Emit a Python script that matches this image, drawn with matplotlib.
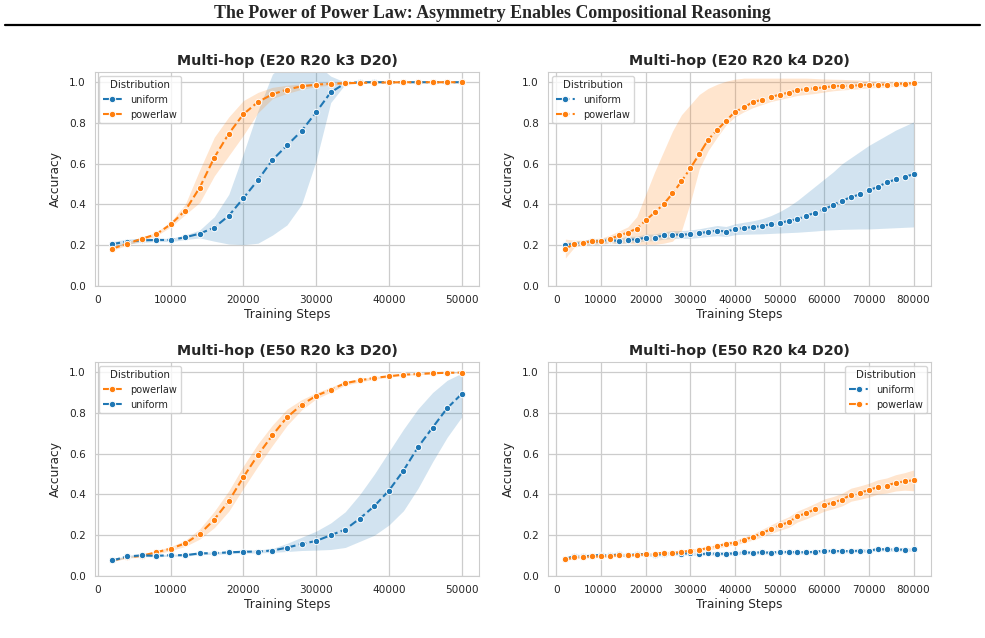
import matplotlib
matplotlib.use("Agg")
import matplotlib.pyplot as plt
import seaborn as sns
from matplotlib.lines import Line2D

sns.set_style("whitegrid")
plt.rcParams["font.family"] = ["DejaVu Sans"]

# training steps
steps_50k = list(range(2000, 50001, 2000))
steps_80k = list(range(2000, 80001, 2000))

# E20 R20 k3 D20
u1 = [0.206, 0.218, 0.224, 0.226, 0.226, 0.239, 0.257, 0.287, 0.345, 0.431, 0.520, 0.619, 0.690,
      0.761, 0.853, 0.950, 0.995, 1.0, 1.0, 1.0, 1.0, 1.0, 1.0, 1.0, 1.0]
u1_lo = [0.195, 0.206, 0.214, 0.218, 0.218, 0.228, 0.236, 0.220, 0.206, 0.203, 0.210, 0.250, 0.300,
         0.400, 0.615, 0.900, 0.990, 1.0, 1.0, 1.0, 1.0, 1.0, 1.0, 1.0, 1.0]
u1_hi = [0.218, 0.230, 0.234, 0.234, 0.234, 0.250, 0.275, 0.340, 0.450, 0.650, 0.860, 1.040, 1.100,
         1.110, 1.090, 1.030, 1.0, 1.0, 1.0, 1.0, 1.0, 1.0, 1.0, 1.0, 1.0]
p1 = [0.183, 0.208, 0.231, 0.254, 0.302, 0.370, 0.483, 0.630, 0.748, 0.843, 0.903, 0.941, 0.964,
      0.980, 0.988, 0.993, 0.995, 0.997, 0.998, 0.999, 1.0, 1.0, 1.0, 1.0, 1.0]
p1_lo = [0.175, 0.200, 0.222, 0.245, 0.290, 0.350, 0.410, 0.540, 0.640, 0.740, 0.850, 0.920, 0.945,
         0.965, 0.978, 0.986, 0.990, 0.995, 0.997, 0.998, 1.0, 1.0, 1.0, 1.0, 1.0]
p1_hi = [0.192, 0.216, 0.240, 0.263, 0.315, 0.400, 0.570, 0.730, 0.830, 0.910, 0.950, 0.975, 0.985,
         0.992, 0.996, 0.998, 0.999, 1.0, 1.0, 1.0, 1.0, 1.0, 1.0, 1.0, 1.0]

# E20 R20 k4 D20
u2 = [0.200, 0.208, 0.213, 0.219, 0.219, 0.228, 0.219, 0.228, 0.228, 0.238, 0.238, 0.248, 0.252,
      0.252, 0.254, 0.259, 0.266, 0.272, 0.267, 0.279, 0.285, 0.289, 0.295, 0.302, 0.309, 0.320,
      0.328, 0.345, 0.360, 0.376, 0.398, 0.419, 0.436, 0.450, 0.469, 0.487, 0.508, 0.523, 0.536, 0.548]
u2_lo = [0.190, 0.198, 0.203, 0.207, 0.207, 0.214, 0.207, 0.214, 0.214, 0.222, 0.222, 0.230, 0.233,
         0.233, 0.234, 0.238, 0.243, 0.247, 0.243, 0.252, 0.254, 0.255, 0.256, 0.258, 0.260, 0.262,
         0.264, 0.267, 0.270, 0.274, 0.276, 0.278, 0.279, 0.280, 0.280, 0.282, 0.284, 0.286, 0.288, 0.290]
u2_hi = [0.212, 0.220, 0.225, 0.232, 0.232, 0.242, 0.234, 0.244, 0.244, 0.255, 0.255, 0.266, 0.272,
         0.272, 0.275, 0.281, 0.289, 0.297, 0.292, 0.305, 0.313, 0.320, 0.330, 0.345, 0.365, 0.390,
         0.420, 0.455, 0.490, 0.525, 0.560, 0.600, 0.630, 0.660, 0.690, 0.715, 0.740, 0.765, 0.785, 0.805]
p2 = [0.182, 0.208, 0.213, 0.219, 0.219, 0.231, 0.248, 0.262, 0.282, 0.322, 0.361, 0.401, 0.454,
      0.513, 0.578, 0.647, 0.718, 0.766, 0.810, 0.855, 0.876, 0.903, 0.913, 0.927, 0.939, 0.949,
      0.960, 0.967, 0.970, 0.975, 0.980, 0.982, 0.983, 0.985, 0.988, 0.988, 0.988, 0.992, 0.993, 0.995]
p2_lo = [0.137, 0.190, 0.200, 0.205, 0.205, 0.210, 0.210, 0.210, 0.205, 0.205, 0.205, 0.210, 0.220,
         0.270, 0.410, 0.575, 0.665, 0.730, 0.790, 0.830, 0.855, 0.875, 0.890, 0.905, 0.915, 0.925,
         0.935, 0.940, 0.945, 0.952, 0.958, 0.962, 0.965, 0.968, 0.972, 0.974, 0.976, 0.980, 0.982, 0.985]
p2_hi = [0.230, 0.225, 0.225, 0.232, 0.235, 0.250, 0.270, 0.290, 0.340, 0.450, 0.560, 0.660, 0.760,
         0.840, 0.890, 0.940, 0.970, 0.990, 1.005, 1.015, 1.020, 1.020, 1.020, 1.020, 1.020, 1.020,
         1.020, 1.020, 1.018, 1.016, 1.015, 1.014, 1.012, 1.010, 1.008, 1.006, 1.005, 1.004, 1.003, 1.002]

# E50 R20 k3 D20
p3 = [0.076, 0.092, 0.099, 0.116, 0.134, 0.160, 0.206, 0.277, 0.368, 0.485, 0.594, 0.691, 0.779,
      0.840, 0.884, 0.914, 0.946, 0.960, 0.972, 0.980, 0.988, 0.991, 0.995, 0.997, 0.998]
p3_lo = [0.071, 0.087, 0.093, 0.108, 0.124, 0.145, 0.181, 0.237, 0.318, 0.430, 0.539, 0.641, 0.739,
         0.815, 0.869, 0.902, 0.936, 0.952, 0.966, 0.975, 0.984, 0.988, 0.992, 0.995, 0.996]
p3_hi = [0.081, 0.097, 0.105, 0.124, 0.144, 0.175, 0.231, 0.317, 0.418, 0.540, 0.649, 0.741, 0.819,
         0.865, 0.899, 0.926, 0.956, 0.968, 0.978, 0.985, 0.992, 0.994, 0.998, 0.999, 1.0]
u3 = [0.076, 0.096, 0.101, 0.099, 0.102, 0.102, 0.111, 0.112, 0.116, 0.119, 0.120, 0.125, 0.139,
      0.157, 0.172, 0.200, 0.228, 0.282, 0.343, 0.419, 0.517, 0.632, 0.728, 0.823, 0.893]
u3_lo = [0.071, 0.090, 0.095, 0.094, 0.097, 0.097, 0.105, 0.106, 0.110, 0.112, 0.113, 0.116, 0.120,
         0.125, 0.127, 0.130, 0.140, 0.170, 0.200, 0.250, 0.320, 0.430, 0.560, 0.680, 0.780]
u3_hi = [0.081, 0.102, 0.107, 0.104, 0.107, 0.107, 0.117, 0.118, 0.122, 0.126, 0.128, 0.135, 0.160,
         0.190, 0.220, 0.260, 0.315, 0.400, 0.500, 0.610, 0.720, 0.820, 0.900, 0.960, 0.995]

# E50 R20 k4 D20
u4 = [0.083, 0.099, 0.097, 0.099, 0.104, 0.101, 0.106, 0.101, 0.107, 0.107, 0.102, 0.109, 0.112,
      0.109, 0.112, 0.106, 0.111, 0.109, 0.109, 0.111, 0.116, 0.114, 0.116, 0.114, 0.119, 0.117,
      0.117, 0.116, 0.119, 0.124, 0.122, 0.122, 0.122, 0.124, 0.124, 0.132, 0.130, 0.130, 0.129, 0.130]
u4_lo = [0.075, 0.091, 0.089, 0.091, 0.096, 0.093, 0.098, 0.093, 0.099, 0.099, 0.094, 0.101, 0.104,
         0.101, 0.104, 0.098, 0.103, 0.101, 0.101, 0.103, 0.108, 0.106, 0.108, 0.106, 0.111, 0.109,
         0.109, 0.108, 0.111, 0.116, 0.114, 0.114, 0.114, 0.116, 0.116, 0.124, 0.122, 0.122, 0.121, 0.122]
u4_hi = [0.091, 0.107, 0.105, 0.107, 0.112, 0.109, 0.114, 0.109, 0.115, 0.115, 0.110, 0.117, 0.120,
         0.117, 0.120, 0.114, 0.119, 0.117, 0.117, 0.119, 0.124, 0.122, 0.124, 0.122, 0.127, 0.125,
         0.125, 0.124, 0.127, 0.132, 0.130, 0.130, 0.130, 0.132, 0.132, 0.140, 0.138, 0.138, 0.137, 0.138]
p4 = [0.081, 0.091, 0.094, 0.096, 0.096, 0.099, 0.102, 0.101, 0.104, 0.106, 0.109, 0.114, 0.114,
      0.117, 0.125, 0.129, 0.137, 0.145, 0.158, 0.163, 0.178, 0.191, 0.210, 0.229, 0.248, 0.264,
      0.292, 0.309, 0.328, 0.348, 0.360, 0.375, 0.399, 0.409, 0.421, 0.437, 0.444, 0.457, 0.464, 0.470]
p4_lo = [0.075, 0.085, 0.088, 0.090, 0.090, 0.093, 0.096, 0.095, 0.098, 0.100, 0.103, 0.108, 0.108,
         0.111, 0.118, 0.121, 0.128, 0.135, 0.147, 0.151, 0.165, 0.176, 0.192, 0.208, 0.224, 0.238,
         0.265, 0.281, 0.299, 0.318, 0.330, 0.344, 0.367, 0.376, 0.387, 0.402, 0.407, 0.417, 0.421, 0.418]
p4_hi = [0.087, 0.097, 0.100, 0.102, 0.102, 0.105, 0.108, 0.107, 0.110, 0.112, 0.115, 0.120, 0.120,
         0.123, 0.132, 0.137, 0.146, 0.155, 0.169, 0.175, 0.191, 0.206, 0.228, 0.250, 0.272, 0.290,
         0.319, 0.337, 0.357, 0.378, 0.390, 0.406, 0.431, 0.442, 0.455, 0.472, 0.481, 0.497, 0.507, 0.520]

BLUE = "#1f77b4"
ORANGE = "#ff7f0e"

fig = plt.figure(figsize=(9.85, 6.38), dpi=100)

fig.text(0.5, 0.979, "The Power of Power Law: Asymmetry Enables Compositional Reasoning",
         ha="center", va="center", family="Liberation Serif", weight="bold", size=12.9)
fig.add_artist(Line2D([0.005, 0.995], [0.961, 0.961], transform=fig.transFigure,
                      color="black", lw=1.6))

panels = [
    ([0.0964, 0.5517, 0.390, 0.3354], "Multi-hop (E20 R20 k3 D20)", steps_50k, "--",
     [("uniform", u1, u1_lo, u1_hi, BLUE), ("powerlaw", p1, p1_lo, p1_hi, ORANGE)],
     50000, "upper left"),
    ([0.5563, 0.5517, 0.3888, 0.3354], "Multi-hop (E20 R20 k4 D20)", steps_80k, "-.",
     [("uniform", u2, u2_lo, u2_hi, BLUE), ("powerlaw", p2, p2_lo, p2_hi, ORANGE)],
     80000, "upper left"),
    ([0.0964, 0.0972, 0.390, 0.3354], "Multi-hop (E50 R20 k3 D20)", steps_50k, "--",
     [("powerlaw", p3, p3_lo, p3_hi, ORANGE), ("uniform", u3, u3_lo, u3_hi, BLUE)],
     50000, "upper left"),
    ([0.5563, 0.0972, 0.3888, 0.3354], "Multi-hop (E50 R20 k4 D20)", steps_80k, "-.",
     [("uniform", u4, u4_lo, u4_hi, BLUE), ("powerlaw", p4, p4_lo, p4_hi, ORANGE)],
     80000, "upper right"),
]

for rect, title, x, ls, series, xmax, loc in panels:
    ax = fig.add_axes(rect)
    for name, y, lo, hi, col in series:
        ax.fill_between(x, lo, hi, color=col, alpha=0.2, lw=0)
        ax.plot(x, y, ls=ls, color=col, lw=1.5, marker="o", ms=4.6,
                mec="white", mew=0.7, label=name)
    span = x[-1] - x[0]
    ax.set_xlim(x[0] - 0.05 * span, x[-1] + 0.05 * span)
    ax.set_ylim(0, 1.05)
    ax.set_xticks(range(0, xmax + 1, 10000))
    ax.set_yticks([0.0, 0.2, 0.4, 0.6, 0.8, 1.0])
    ax.set_yticklabels(["0.0", "0.2", "0.4", "0.6", "0.8", "1.0"])
    ax.tick_params(labelsize=7.6, colors=".15", pad=3)
    ax.set_xlabel("Training Steps", size=8.8, color=".15", labelpad=2)
    ax.set_ylabel("Accuracy", size=8.8, color=".15", labelpad=5)
    ax.set_title(title, size=10.3, weight="bold", color=".15", pad=5)
    for s in ax.spines.values():
        s.set_color(".8")
    ax.grid(color=".8", lw=0.9)
    leg = ax.legend(title="Distribution", loc=loc, fontsize=7, title_fontsize=7.4,
                    handlelength=2.0, borderaxespad=0.4)
    leg.get_frame().set_edgecolor(".8")

fig.savefig("out.png", dpi=100)
